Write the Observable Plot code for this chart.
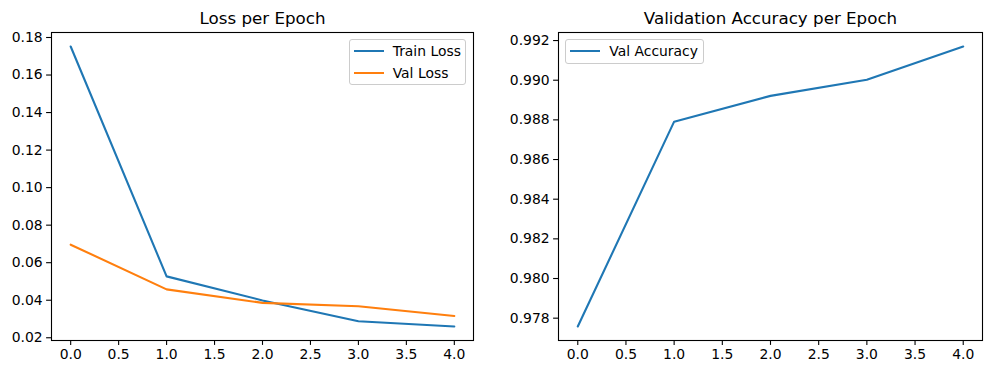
<!DOCTYPE html>
<html><head><meta charset="utf-8">
<script src="https://cdn.jsdelivr.net/npm/d3@7"></script>
<script src="https://cdn.jsdelivr.net/npm/@observablehq/plot@0.6"></script>
<style>
body{margin:0;background:#fff;}
#wrap{position:relative;width:990px;height:374px;font-family:"DejaVu Sans";overflow:hidden;}
.panel{position:absolute;top:0;}
.legend{position:absolute;border:1px solid #cccccc;border-radius:3px;background:rgba(255,255,255,0.8);font-size:13.9px;color:#000;box-sizing:border-box;}
.legend .ln{position:absolute;height:2px;width:30px;}
.legend .lt{position:absolute;white-space:nowrap;line-height:16px;}
</style>
</head><body>
<div id="wrap"></div>
<script>
// ---- data ----
const epochs = [0, 1, 2, 3, 4];
const trainLoss = [0.1752, 0.0527, 0.0399, 0.0288, 0.0260];
const valLoss = [0.0696, 0.0458, 0.0386, 0.0368, 0.0316];
const valAcc = [0.97758, 0.98791, 0.98921, 0.99002, 0.99170];
const xTicks = [0, 0.5, 1, 1.5, 2, 2.5, 3, 3.5, 4];
const lossTicks = [0.02, 0.04, 0.06, 0.08, 0.10, 0.12, 0.14, 0.16, 0.18];
const accTicks = [0.978, 0.980, 0.982, 0.984, 0.986, 0.988, 0.990, 0.992];
const titles = ["Loss per Epoch", "Validation Accuracy per Epoch"];
const seriesNames = ["Train Loss", "Val Loss", "Val Accuracy"];
const colors = ["#1f77b4", "#ff7f0e"];

function rows(vals) { return epochs.map((e, i) => ({epoch: e, value: vals[i]})); }
function padded(arrs) {
  const all = arrs.flat();
  const lo = d3.min(all), hi = d3.max(all), m = (hi - lo) * 0.05;
  return [lo - m, hi + m];
}
const xDomain = padded([epochs]);

function panel({left, marginLeft, marginRight, yDomain, yTicks, yFmt, series, title}) {
  const marks = [
    Plot.frame({stroke: "black", strokeWidth: 1.1}),
    Plot.axisX({ticks: xTicks, tickFormat: d3.format(".1f"), tickSize: 4.9, tickPadding: 4, label: null, strokeWidth: 1.1}),
    Plot.axisY({ticks: yTicks, tickFormat: d3.format(yFmt), tickSize: 4.9, tickPadding: 4, label: null, strokeWidth: 1.1}),
    ...series.map(s => Plot.line(rows(s.values), {x: "epoch", y: "value", stroke: s.color, strokeWidth: 2.1})),
    Plot.text([title], {text: d => d, frameAnchor: "top", dy: -8.3, lineAnchor: "bottom", fontSize: 16.7, fill: "black"})
  ];
  const svg = Plot.plot({
    width: 495, height: 374,
    marginLeft, marginRight, marginTop: 32, marginBottom: 34,
    style: {fontFamily: "DejaVu Sans", fontSize: "13.9px", color: "black", background: "transparent", overflow: "visible"},
    x: {domain: xDomain},
    y: {domain: yDomain},
    marks
  });
  const d = document.createElement("div");
  d.className = "panel";
  d.style.left = left + "px";
  d.appendChild(svg);
  document.getElementById("wrap").appendChild(d);
}

panel({
  left: 0, marginLeft: 51, marginRight: 22,
  yDomain: padded([trainLoss, valLoss]), yTicks: lossTicks, yFmt: ".2f",
  series: [{values: trainLoss, color: colors[0]}, {values: valLoss, color: colors[1]}],
  title: titles[0]
});
panel({
  left: 495, marginLeft: 63, marginRight: 8,
  yDomain: padded([valAcc]), yTicks: accTicks, yFmt: ".3f",
  series: [{values: valAcc, color: colors[0]}],
  title: titles[1]
});

function legend(x, y, w, h, entries) {
  const box = document.createElement("div");
  box.className = "legend";
  Object.assign(box.style, {left: x + "px", top: y + "px", width: w + "px", height: h + "px"});
  entries.forEach((e, i) => {
    const cy = 11 + i * 21.3;
    const ln = document.createElement("div");
    ln.className = "ln";
    Object.assign(ln.style, {left: "4px", top: (cy - 1) + "px", background: e.color});
    const t = document.createElement("div");
    t.className = "lt";
    t.textContent = e.name;
    Object.assign(t.style, {left: "43px", top: (cy - 8) + "px"});
    box.appendChild(ln); box.appendChild(t);
  });
  document.getElementById("wrap").appendChild(box);
}
legend(348.7, 39.3, 117.3, 46, [{name: seriesNames[0], color: colors[0]}, {name: seriesNames[1], color: colors[1]}]);
legend(565.3, 39.3, 138.7, 24.7, [{name: seriesNames[2], color: colors[0]}]);
</script>
</body></html>
